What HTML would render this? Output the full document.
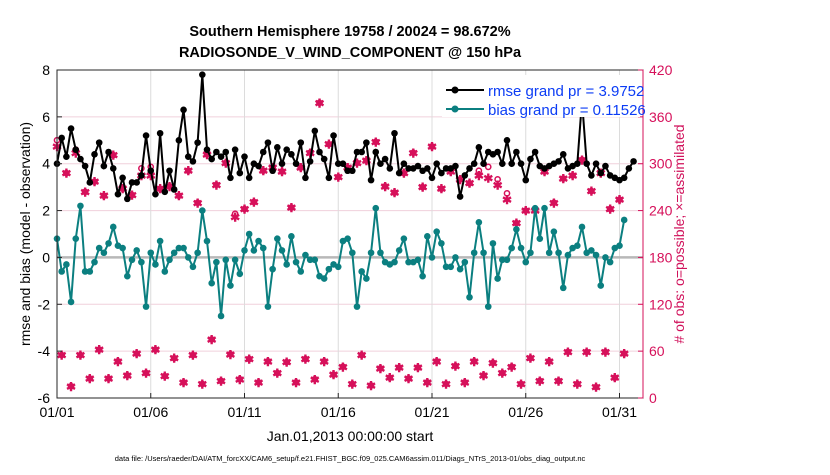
<!DOCTYPE html>
<html><head><meta charset="utf-8"><style>
body{margin:0;background:#fff;}
svg text{font-family:"Liberation Sans",Arial,sans-serif;}
</style></head><body>
<svg id="c" width="830" height="470" viewBox="0 0 830 470" xmlns="http://www.w3.org/2000/svg">
<rect width="830" height="470" fill="#fff"/>
<g id="grid"></g><g id="marks"></g><g id="axes"></g>
<text x="350" y="36" text-anchor="middle" font-size="14.5" font-weight="bold">Southern Hemisphere 19758 / 20024 = 98.672%</text>
<text x="350" y="57" text-anchor="middle" font-size="14.5" font-weight="bold">RADIOSONDE_V_WIND_COMPONENT @ 150 hPa</text>
<text transform="translate(30,234) rotate(-90)" text-anchor="middle" font-size="14">rmse and bias (model - observation)</text>
<text transform="translate(684,234) rotate(-90)" text-anchor="middle" font-size="14" fill="#d0105a"># of obs: o=possible; ×=assimilated</text>
<text x="350" y="441" text-anchor="middle" font-size="14">Jan.01,2013 00:00:00 start</text>
<text x="350" y="461" text-anchor="middle" font-size="7.5">data file: /Users/raeder/DAI/ATM_forcXX/CAM6_setup/f.e21.FHIST_BGC.f09_025.CAM6assim.011/Diags_NTrS_2013-01/obs_diag_output.nc</text>
<g>
<rect x="442" y="75" width="198" height="42" fill="#fff"/>
<line x1="446" y1="90" x2="484" y2="90" stroke="#000" stroke-width="2"/><circle cx="455" cy="90" r="3.5" fill="#000"/>
<text x="488" y="96" font-size="15" fill="#0b3cf5">rmse grand pr = 3.9752</text>
<line x1="446" y1="109" x2="484" y2="109" stroke="#0b7f80" stroke-width="2"/><circle cx="455" cy="109" r="3.5" fill="#0b7f80"/>
<text x="488" y="115" font-size="15" fill="#0b3cf5">bias grand pr = 0.11526</text>
</g>
</svg>
<script>
const rmse=[4.0,5.1,4.3,5.5,4.6,4.2,3.9,3.2,4.4,4.9,3.9,4.5,3.8,2.7,3.4,2.5,3.2,3.2,3.5,5.2,3.7,2.7,5.3,2.8,3.7,2.9,5.0,6.3,4.3,4.1,4.9,7.8,4.6,4.2,4.5,4.3,4.5,3.4,4.6,3.6,4.3,3.4,4.0,3.9,4.5,4.9,3.7,4.7,4.0,4.6,4.4,4.0,4.9,3.4,4.1,5.4,4.5,4.2,3.4,5.2,4.0,4.0,
3.7,3.7,4.5,4.5,4.9,3.3,4.5,4.0,4.2,3.8,5.3,3.6,4.0,3.8,3.8,3.9,3.7,3.8,3.4,4.0,3.6,3.8,3.8,3.9,2.6,3.5,3.8,4.0,4.7,4.0,4.5,4.4,4.5,4.0,5.0,4.0,4.5,4.0,3.3,4.2,4.5,3.9,3.8,3.9,4.0,4.1,4.4,3.8,3.9,4.0,6.7,4.0,3.5,4.0,3.6,3.9,3.5,3.4,3.3,3.4,3.8,4.1];
const bias=[0.8,-0.6,-0.3,-1.9,0.8,2.2,-0.6,-0.6,-0.2,0.4,0.2,0.6,1.3,0.5,0.4,-0.8,-0.1,0.3,-0.2,-2.1,0.2,-0.3,0.7,-0.6,-0.1,0.2,0.4,0.4,0.0,-0.4,0.2,2.0,0.7,-1.1,-0.2,-2.5,-0.1,-1.2,-0.1,-0.7,0.3,1.0,0.3,0.7,0.4,-2.1,-0.5,0.8,0.3,-0.3,0.9,-0.2,-0.6,0.1,-0.1,-0.1,-0.8,-0.9,-0.5,-0.3,-0.4,0.7,
0.8,0.2,-2.1,-0.6,-0.9,0.2,2.1,0.2,-0.2,-0.3,-0.2,0.3,0.8,-0.2,-0.2,-0.1,-0.8,0.9,0.0,1.1,0.6,-0.4,-0.4,0.0,-0.5,-0.2,-1.7,0.2,1.5,0.2,-2.1,0.6,-0.9,-0.1,-0.1,0.4,1.2,0.4,-0.2,0.2,2.1,0.8,2.1,0.2,1.1,0.2,-1.3,0.1,0.4,0.5,1.3,0.2,0.3,0.1,-1.2,0.0,-0.2,0.4,0.5,1.6];
const usedMain=[322,288,314,264,277,259,311,268,260,285,285,268,271,259,291,250,312,273,301,232,242,251,291,295,290,244,295,314,378,325,283,295,301,304,328,271,263,288,314,270,322,268,290,280,275,285,282,273,254,224,240,240,290,250,281,285,305,265,288,242,254];
const usedOff=[55,15,55,25,62,25,47,29,57,32,62,28,51,20,55,18,75,22,56,24,50,20,47,32,46,20,50,24,47,30,40,18,55,16,38,26,39,25,39,20,47,18,41,20,47,29,45,32,40,18,51,22,47,22,59,18,59,14,59,26,57];
const possMain=[330,288,318,264,277,259,311,268,260,294,296,268,271,259,291,250,312,273,301,236,242,251,291,295,290,244,295,314,378,325,283,295,301,304,328,271,263,288,314,270,322,268,290,280,275,291,296,280,262,224,240,240,290,250,281,285,305,265,288,242,254];
const possOff=[55,15,55,25,62,25,47,29,57,32,62,28,51,20,55,18,75,22,56,24,50,20,47,32,46,20,50,24,47,30,40,18,55,16,38,26,39,25,39,20,47,18,41,20,47,29,45,32,40,18,51,22,47,22,59,18,59,14,59,26,57];
const leftTicks=[8,6,4,2,0,-2,-4,-6];
const rightTicks=[420,360,300,240,180,120,60,0];
const xTickLabels=['01/01','01/06','01/11','01/16','01/21','01/26','01/31'];
const xTickDays=[0,5,10,15,20,25,30];
const stepDays=0.25;

const X0=57,X1=643,Y0=70,Y1=398,DAYPX=18.75;
const xs=d=>X0+d*DAYPX;
const yl=v=>Y0+(8-v)/14*(Y1-Y0);
const yr=c=>Y0+(420-c)/420*(Y1-Y0);
const NS='http://www.w3.org/2000/svg';
function mk(tag,attrs,parent){const e=document.createElementNS(NS,tag);for(const k in attrs)e.setAttribute(k,attrs[k]);parent.appendChild(e);return e;}
const grid=document.getElementById('grid'),marks=document.getElementById('marks'),axes=document.getElementById('axes');
rightTicks.forEach(c=>{const l=mk('line',{x1:X0,x2:X1,y1:yr(c),y2:yr(c),stroke:'#f0d0dc','stroke-width':1},grid);

});
xTickDays.forEach(d=>{const l=mk('line',{x1:xs(d),x2:xs(d),y1:Y0,y2:Y1,stroke:'#dcdcdc','stroke-width':1},grid);

});
const z=mk('line',{x1:X0,x2:X1,y1:yl(0),y2:yl(0),stroke:'#b8b8b8','stroke-width':2.5},grid);


const pink='#d6105a';
function drawCount(arr,offset,isPoss){arr.forEach((c,i)=>{const d=(2*i+offset)*stepDays;const x=xs(d);if(x>X1)return;
 if(isPoss){const e=mk('circle',{cx:x,cy:yr(c),r:2.6,fill:'none',stroke:pink,'stroke-width':1.5},marks);
 
 }
 else{const e=mk('text',{x:x,y:yr(c)+4.5,'text-anchor':'middle','font-size':12,'font-weight':'bold',fill:pink},marks);e.textContent='✱';
 
 }});}
drawCount(possMain,0,true);drawCount(possOff,1,true);
drawCount(usedMain,0,false);drawCount(usedOff,1,false);
function series(arr,color,name){const pts=arr.map((v,i)=>xs(i*stepDays)+','+yl(v)).join(' ');
 const p=mk('polyline',{points:pts,fill:'none',stroke:color,'stroke-width':2},marks);
 
 
 arr.forEach((v,i)=>{const c=mk('circle',{cx:xs(i*stepDays),cy:yl(v),r:3.3,fill:color},marks);
 
 });}
series(bias,'#0b7f80','bias');
series(rmse,'#000','rmse');
const box=mk('rect',{x:X0,y:Y0,width:X1-X0,height:Y1-Y0,fill:'none',stroke:'#262626','stroke-width':1},axes);


const rax=mk('line',{x1:X1,x2:X1,y1:Y0,y2:Y1,stroke:pink,'stroke-width':1},axes);


leftTicks.forEach(v=>{mk('line',{x1:X0,x2:X0+5,y1:yl(v),y2:yl(v),stroke:'#262626'},axes);
 const t=mk('text',{x:X0-7,y:yl(v)+5,'text-anchor':'end','font-size':14},axes);t.textContent=v;
 
 });
rightTicks.forEach(c=>{mk('line',{x1:X1-5,x2:X1,y1:yr(c),y2:yr(c),stroke:pink},axes);
 const t=mk('text',{x:X1+6,y:yr(c)+5,'font-size':14,fill:pink},axes);t.textContent=c;
 
 });
xTickDays.forEach((d,i)=>{mk('line',{x1:xs(d),x2:xs(d),y1:Y1,y2:Y1-5,stroke:'#262626'},axes);
 const t=mk('text',{x:xs(d),y:Y1+19,'text-anchor':'middle','font-size':14},axes);t.textContent=xTickLabels[i];
 
 });
</script>
</body></html>
